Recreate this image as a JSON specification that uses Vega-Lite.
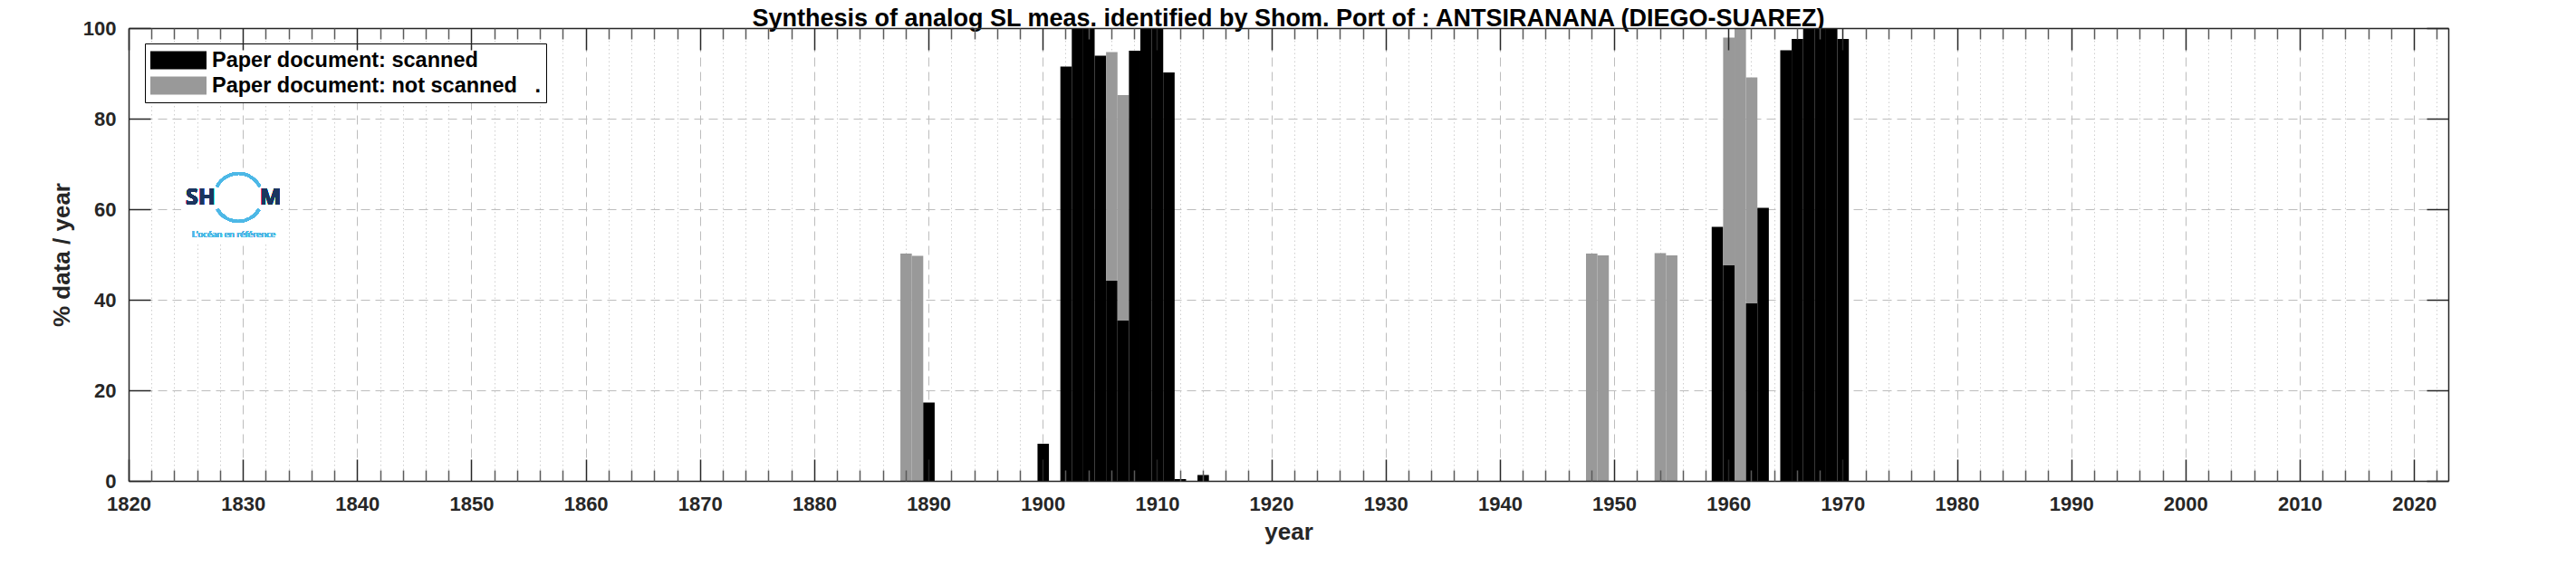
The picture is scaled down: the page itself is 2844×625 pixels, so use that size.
{
  "$schema": "https://vega.github.io/schema/vega-lite/v6.json",
  "width": 2561,
  "height": 500,
  "autosize": "none",
  "padding": {"left": 142, "top": 31, "right": 141, "bottom": 94},
  "background": "white",
  "config": {
    "view": {"stroke": null},
    "font": "Liberation Sans, Arial, sans-serif"
  },
  "title": {
    "text": "Synthesis of analog SL meas. identified by Shom. Port of : ANTSIRANANA (DIEGO-SUAREZ)",
    "font": "Liberation Sans, Arial, sans-serif",
    "fontSize": 27,
    "fontWeight": "bold",
    "color": "#000000",
    "anchor": "middle",
    "frame": "group",
    "offset": 3,
    "dy": 18
  },
  "data": {
    "values": [
      {"year": 1888, "status": "Paper document: not scanned\u00a0\u00a0\u00a0.", "value": 50.2},
      {"year": 1889, "status": "Paper document: not scanned\u00a0\u00a0\u00a0.", "value": 49.7},
      {"year": 1890, "status": "Paper document: scanned", "value": 17.3},
      {"year": 1900, "status": "Paper document: scanned", "value": 8.2},
      {"year": 1902, "status": "Paper document: scanned", "value": 91.5},
      {"year": 1903, "status": "Paper document: scanned", "value": 100},
      {"year": 1904, "status": "Paper document: scanned", "value": 100},
      {"year": 1905, "status": "Paper document: scanned", "value": 93.9},
      {"year": 1906, "status": "Paper document: scanned", "value": 44.2},
      {"year": 1906, "status": "Paper document: not scanned\u00a0\u00a0\u00a0.", "value": 50.5},
      {"year": 1907, "status": "Paper document: scanned", "value": 35.4},
      {"year": 1907, "status": "Paper document: not scanned\u00a0\u00a0\u00a0.", "value": 49.8},
      {"year": 1908, "status": "Paper document: scanned", "value": 95.0},
      {"year": 1909, "status": "Paper document: scanned", "value": 100},
      {"year": 1910, "status": "Paper document: scanned", "value": 100},
      {"year": 1911, "status": "Paper document: scanned", "value": 90.2},
      {"year": 1912, "status": "Paper document: scanned", "value": 0.4},
      {"year": 1914, "status": "Paper document: scanned", "value": 1.3},
      {"year": 1948, "status": "Paper document: not scanned\u00a0\u00a0\u00a0.", "value": 50.2},
      {"year": 1949, "status": "Paper document: not scanned\u00a0\u00a0\u00a0.", "value": 49.8},
      {"year": 1954, "status": "Paper document: not scanned\u00a0\u00a0\u00a0.", "value": 50.3},
      {"year": 1955, "status": "Paper document: not scanned\u00a0\u00a0\u00a0.", "value": 49.8},
      {"year": 1959, "status": "Paper document: scanned", "value": 56.1},
      {"year": 1960, "status": "Paper document: scanned", "value": 47.6},
      {"year": 1960, "status": "Paper document: not scanned\u00a0\u00a0\u00a0.", "value": 50.3},
      {"year": 1961, "status": "Paper document: not scanned\u00a0\u00a0\u00a0.", "value": 100},
      {"year": 1962, "status": "Paper document: scanned", "value": 39.2},
      {"year": 1962, "status": "Paper document: not scanned\u00a0\u00a0\u00a0.", "value": 49.9},
      {"year": 1963, "status": "Paper document: scanned", "value": 60.3},
      {"year": 1965, "status": "Paper document: scanned", "value": 95.1},
      {"year": 1966, "status": "Paper document: scanned", "value": 97.6},
      {"year": 1967, "status": "Paper document: scanned", "value": 100},
      {"year": 1968, "status": "Paper document: scanned", "value": 100},
      {"year": 1969, "status": "Paper document: scanned", "value": 100},
      {"year": 1970, "status": "Paper document: scanned", "value": 97.6}
    ]
  },
  "resolve": {"axis": {"x": "independent", "y": "independent"}},
  "layer": [
    {
      "mark": {"type": "point", "opacity": 0},
      "encoding": {
        "x": {"field": "year", "type": "quantitative",
          "axis": {"orient": "bottom", "zindex": 0, "values": [1820,1830,1840,1850,1860,1870,1880,1890,1900,1910,1920,1930,1940,1950,1960,1970,1980,1990,2000,2010,2020],
            "grid": true, "gridColor": "#bdbdbd", "gridDash": [10, 6], "gridWidth": 1, "gridOpacity": 1,
            "ticks": false, "labels": false, "domain": false, "title": null}},
        "y": {"field": "value", "type": "quantitative",
          "axis": {"orient": "left", "zindex": 0, "values": [20, 40, 60, 80],
            "grid": true, "gridColor": "#bdbdbd", "gridDash": [10, 6], "gridWidth": 1, "gridOpacity": 1,
            "ticks": false, "labels": false, "domain": false, "title": null}}
      }
    },
    {
      "mark": {"type": "point", "opacity": 0},
      "encoding": {
        "x": {"field": "year", "type": "quantitative",
          "axis": {"orient": "bottom", "zindex": 0, "values": [1822,1824,1826,1828,1832,1834,1836,1838,1842,1844,1846,1848,1852,1854,1856,1858,1862,1864,1866,1868,1872,1874,1876,1878,1882,1884,1886,1888,1892,1894,1896,1898,1902,1904,1906,1908,1912,1914,1916,1918,1922,1924,1926,1928,1932,1934,1936,1938,1942,1944,1946,1948,1952,1954,1956,1958,1962,1964,1966,1968,1972,1974,1976,1978,1982,1984,1986,1988,1992,1994,1996,1998,2002,2004,2006,2008,2012,2014,2016,2018,2022],
            "grid": true, "gridColor": "#cfcfcf", "gridDash": [1.5, 3], "gridWidth": 1, "gridOpacity": 1,
            "ticks": false, "labels": false, "domain": false, "title": null}},
        "y": {"field": "value", "type": "quantitative", "axis": null}
      }
    },
    {
      "mark": {"type": "bar", "binSpacing": 0},
      "encoding": {
        "x": {"field": "year", "type": "quantitative", "bin": {"step": 1, "extent": [1819.5, 2023.5], "nice": false},
          "scale": {"domain": [1820, 2023], "nice": false, "zero": false},
          "axis": {"orient": "bottom", "zindex": 1, "values": [1820,1830,1840,1850,1860,1870,1880,1890,1900,1910,1920,1930,1940,1950,1960,1970,1980,1990,2000,2010,2020],
            "format": "d", "grid": false, "ticks": false, "domain": true, "domainColor": "#262626", "domainWidth": 1.5,
            "labels": true, "labelFont": "Liberation Sans, Arial, sans-serif", "labelFontSize": 22, "labelFontWeight": "bold", "labelColor": "#262626",
            "labelPadding": 15, "labelFlush": false, "labelOverlap": false, "labelBound": false,
            "title": "year", "titleFont": "Liberation Sans, Arial, sans-serif", "titleFontSize": 26, "titleFontWeight": "bold", "titleColor": "#262626", "titlePadding": 7}},
        "y": {"field": "value", "type": "quantitative", "aggregate": "sum", "stack": "zero",
          "scale": {"domain": [0, 100], "nice": false, "zero": true},
          "axis": {"orient": "left", "zindex": 1, "values": [0, 20, 40, 60, 80, 100],
            "grid": false, "ticks": false, "domain": true, "domainColor": "#262626", "domainWidth": 1.5,
            "labels": true, "labelFont": "Liberation Sans, Arial, sans-serif", "labelFontSize": 22, "labelFontWeight": "bold", "labelColor": "#262626",
            "labelPadding": 14, "labelFlush": false, "labelOverlap": false, "labelBound": false,
            "title": "% data / year", "titleFont": "Liberation Sans, Arial, sans-serif", "titleFontSize": 26, "titleFontWeight": "bold", "titleColor": "#262626", "titlePadding": 10}},
        "color": {"field": "status", "type": "nominal",
          "scale": {"domain": ["Paper document: scanned", "Paper document: not scanned\u00a0\u00a0\u00a0."], "range": ["#000000", "#999999"]},
          "legend": {"orient": "none", "legendX": 18, "legendY": 17, "title": null,
            "symbolType": "M-1,-0.32H1V0.32H-1Z", "symbolSize": 3844, "clipHeight": 25,
            "symbolStrokeWidth": 0, "symbolOpacity": 1,
            "labelFont": "Liberation Sans, Arial, sans-serif", "labelFontSize": 23.5, "labelFontWeight": "bold", "labelColor": "#000000", "labelLimit": 0,
            "labelOffset": 6, "rowPadding": 3, "padding": 6,
            "strokeColor": "#000000", "fillColor": "#ffffff"}},
        "order": {"field": "status", "sort": "descending"}
      }
    },
    {
      "mark": {"type": "rect", "color": "#ffffff"},
      "encoding": {
        "x": {"datum": 1824.6, "type": "quantitative", "axis": null},
        "x2": {"datum": 1833.3},
        "y": {"datum": 68.5, "type": "quantitative", "axis": null},
        "y2": {"datum": 52.8}
      }
    },
    {
      "mark": {"type": "arc", "radius": 28, "radius2": 25, "theta": -1.1, "theta2": 1.1, "color": "#4db8e6"},
      "encoding": {
        "x": {"datum": 1829.6, "type": "quantitative", "axis": null},
        "y": {"datum": 62.6, "type": "quantitative", "axis": null}
      }
    },
    {
      "mark": {"type": "arc", "radius": 28, "radius2": 25, "theta": 2.1, "theta2": 4.2, "color": "#4db8e6"},
      "encoding": {
        "x": {"datum": 1829.6, "type": "quantitative", "axis": null},
        "y": {"datum": 62.6, "type": "quantitative", "axis": null}
      }
    },
    {
      "mark": {"type": "text", "text": "SH", "font": "Open Sans", "fontSize": 25, "fontWeight": "bold", "color": "#1b355f", "align": "center", "baseline": "middle"},
      "encoding": {
        "x": {"datum": 1826.3, "type": "quantitative", "axis": null},
        "y": {"datum": 62.6, "type": "quantitative", "axis": null}
      }
    },
    {
      "mark": {"type": "text", "text": "M", "font": "Open Sans", "fontSize": 25, "fontWeight": "bold", "color": "#1b355f", "align": "center", "baseline": "middle"},
      "encoding": {
        "x": {"datum": 1832.4, "type": "quantitative", "axis": null},
        "y": {"datum": 62.6, "type": "quantitative", "axis": null}
      }
    },
    {
      "mark": {"type": "text", "text": "L\u2019océan en référence", "font": "Open Sans", "fontSize": 9.5, "color": "#4db8e6", "align": "center", "baseline": "middle"},
      "encoding": {
        "x": {"datum": 1829.2, "type": "quantitative", "axis": null},
        "y": {"datum": 54.4, "type": "quantitative", "axis": null}
      }
    },
    {
      "mark": {"type": "point", "opacity": 0},
      "encoding": {
        "x": {"field": "year", "type": "quantitative",
          "axis": {"orient": "bottom", "zindex": 1, "values": [1820,1830,1840,1850,1860,1870,1880,1890,1900,1910,1920,1930,1940,1950,1960,1970,1980,1990,2000,2010,2020],
            "grid": false, "ticks": true, "tickSize": -24, "tickColor": "#262626", "tickWidth": 1.5, "labels": false, "domain": false, "title": null}},
        "y": {"field": "value", "type": "quantitative",
          "axis": {"orient": "left", "zindex": 1, "values": [0, 20, 40, 60, 80, 100],
            "grid": false, "ticks": true, "tickSize": -24, "tickColor": "#262626", "tickWidth": 1.5, "labels": false, "domain": false, "title": null}}
      }
    },
    {
      "mark": {"type": "point", "opacity": 0},
      "encoding": {
        "x": {"field": "year", "type": "quantitative",
          "axis": {"orient": "bottom", "zindex": 1, "values": [1822,1824,1826,1828,1832,1834,1836,1838,1842,1844,1846,1848,1852,1854,1856,1858,1862,1864,1866,1868,1872,1874,1876,1878,1882,1884,1886,1888,1892,1894,1896,1898,1902,1904,1906,1908,1912,1914,1916,1918,1922,1924,1926,1928,1932,1934,1936,1938,1942,1944,1946,1948,1952,1954,1956,1958,1962,1964,1966,1968,1972,1974,1976,1978,1982,1984,1986,1988,1992,1994,1996,1998,2002,2004,2006,2008,2012,2014,2016,2018,2022],
            "grid": false, "ticks": true, "tickSize": -12, "tickColor": "#5a5a5a", "tickWidth": 1.5, "labels": false, "domain": false, "title": null}},
        "y": {"field": "value", "type": "quantitative",
          "axis": {"orient": "right", "zindex": 1, "values": [0, 20, 40, 60, 80, 100],
            "grid": false, "ticks": true, "tickSize": -24, "tickColor": "#262626", "tickWidth": 1.5, "labels": false, "domain": true, "domainColor": "#262626", "domainWidth": 1.5, "title": null}}
      }
    },
    {
      "mark": {"type": "point", "opacity": 0},
      "encoding": {
        "x": {"field": "year", "type": "quantitative",
          "axis": {"orient": "top", "zindex": 1, "values": [1820,1830,1840,1850,1860,1870,1880,1890,1900,1910,1920,1930,1940,1950,1960,1970,1980,1990,2000,2010,2020],
            "grid": false, "ticks": true, "tickSize": -24, "tickColor": "#262626", "tickWidth": 1.5, "labels": false, "domain": true, "domainColor": "#262626", "domainWidth": 1.5, "title": null}},
        "y": {"field": "value", "type": "quantitative", "axis": null}
      }
    },
    {
      "mark": {"type": "point", "opacity": 0},
      "encoding": {
        "x": {"field": "year", "type": "quantitative",
          "axis": {"orient": "top", "zindex": 1, "values": [1822,1824,1826,1828,1832,1834,1836,1838,1842,1844,1846,1848,1852,1854,1856,1858,1862,1864,1866,1868,1872,1874,1876,1878,1882,1884,1886,1888,1892,1894,1896,1898,1902,1904,1906,1908,1912,1914,1916,1918,1922,1924,1926,1928,1932,1934,1936,1938,1942,1944,1946,1948,1952,1954,1956,1958,1962,1964,1966,1968,1972,1974,1976,1978,1982,1984,1986,1988,1992,1994,1996,1998,2002,2004,2006,2008,2012,2014,2016,2018,2022],
            "grid": false, "ticks": true, "tickSize": -12, "tickColor": "#5a5a5a", "tickWidth": 1.5, "labels": false, "domain": false, "title": null}},
        "y": {"field": "value", "type": "quantitative", "axis": null}
      }
    }
  ]
}
